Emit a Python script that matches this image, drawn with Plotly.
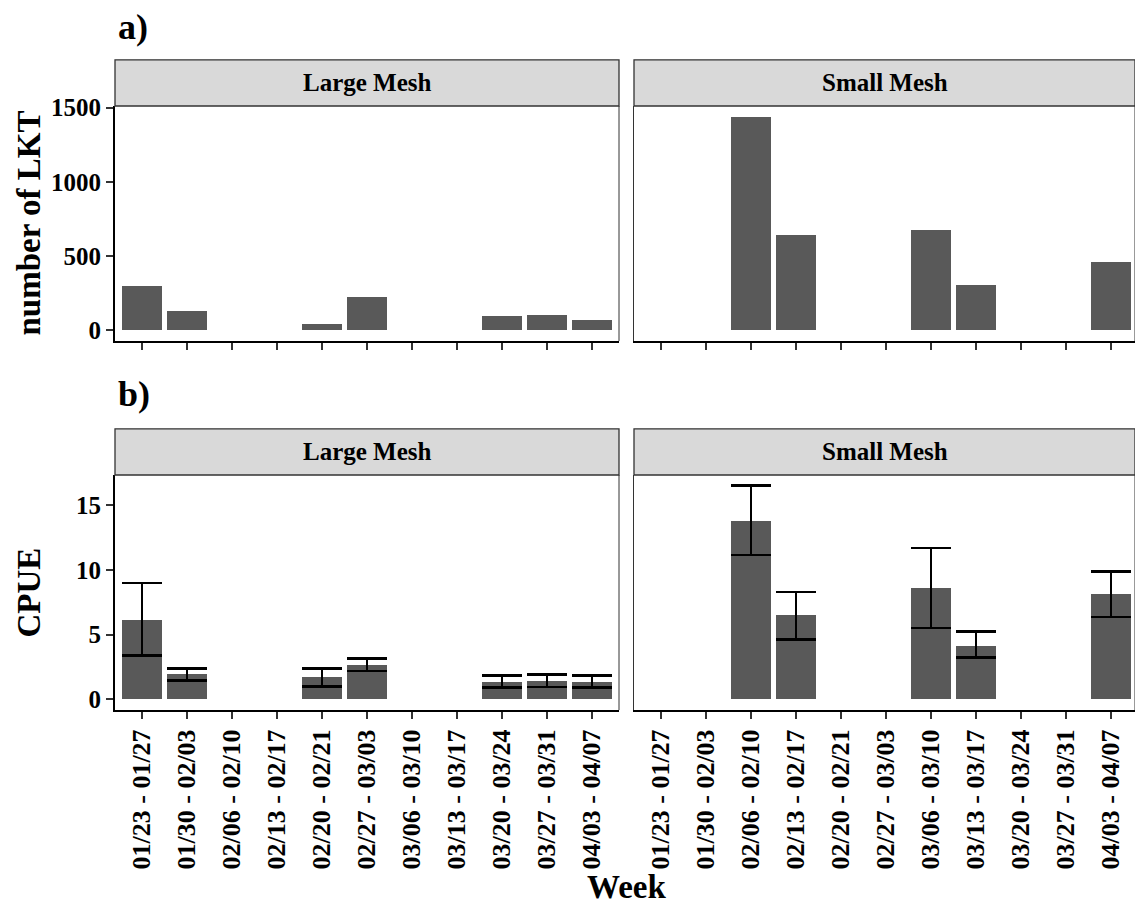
import plotly.graph_objects as go

# Sampling weeks (x categories shared by every panel)
weeks = ["01/23 - 01/27", "01/30 - 02/03", "02/06 - 02/10", "02/13 - 02/17",
         "02/20 - 02/21", "02/27 - 03/03", "03/06 - 03/10", "03/13 - 03/17",
         "03/20 - 03/24", "03/27 - 03/31", "04/03 - 04/07"]

# a) number of LKT caught per week
lkt_large = [301, 129, None, None, 42, 223, None, None, 96, 105, 72]
lkt_small = [None, None, 1439, 643, None, None, 674, 308, None, None, 460]

# b) CPUE mean with lower / upper error limits
cpue_large = [6.13, 1.92, None, None, 1.69, 2.62, None, None, 1.33, 1.41, 1.36]
cpue_large_lo = [3.38, 1.44, None, None, 1.00, 2.18, None, None, 0.90, 0.95, 0.92]
cpue_large_hi = [8.97, 2.38, None, None, 2.38, 3.13, None, None, 1.82, 1.90, 1.82]
cpue_small = [None, None, 13.77, 6.49, None, None, 8.59, 4.15, None, None, 8.10]
cpue_small_lo = [None, None, 11.15, 4.64, None, None, 5.51, 3.21, None, None, 6.36]
cpue_small_hi = [None, None, 16.49, 8.28, None, None, 11.67, 5.21, None, None, 9.85]

panel_names = ["Large Mesh", "Small Mesh"]

FONT = "Liberation Serif"
BAR = "#595959"
W, H = 1135, 905


def err(mean, bound, upper):
    out = []
    for m, b in zip(mean, bound):
        if m is None:
            out.append(None)
        else:
            out.append(b - m if upper else m - b)
    return out


def padded(lo, hi, frac=0.05):
    span = hi - lo
    return [lo - frac * span, hi + frac * span]


fig = go.Figure()

# top row: counts
for i, vals in enumerate([lkt_large, lkt_small]):
    fig.add_trace(go.Bar(
        x=weeks, y=vals, width=0.9, marker=dict(color=BAR, line=dict(width=0)),
        xaxis="x" if i == 0 else "x2", yaxis="y" if i == 0 else "y2",
        showlegend=False))

# bottom row: CPUE with error bars
for i, (m, lo, hi) in enumerate([(cpue_large, cpue_large_lo, cpue_large_hi),
                                  (cpue_small, cpue_small_lo, cpue_small_hi)]):
    fig.add_trace(go.Bar(
        x=weeks, y=m, width=0.9, marker=dict(color=BAR, line=dict(width=0)),
        error_y=dict(type="data", symmetric=False,
                     array=err(m, hi, True), arrayminus=err(m, lo, False),
                     color="black", thickness=2.7, width=20),
        xaxis="x3" if i == 0 else "x4", yaxis="y3" if i == 0 else "y4",
        showlegend=False))

top_max = max(v for v in lkt_large + lkt_small if v is not None)
bot_max = max(v for v in cpue_large_hi + cpue_small_hi if v is not None)
top_range = padded(0, top_max)
bot_range = padded(0, bot_max)

# panel geometry (pixels on the page)
left_x = [115 / W, 619 / W]
right_x = [634 / W, 1.0]
top_y = [1 - 341 / H, 1 - 106 / H]
bot_y = [1 - 710 / H, 1 - 475 / H]
step = (619 - 115) / 11.2
right_end = -0.6 + (W - 634) / step

tickfont_x = dict(family=FONT, size=26, color="black", weight="bold")
tickfont_y = dict(family=FONT, size=25, color="black", weight="bold")

xcommon = dict(type="category", categoryorder="array", categoryarray=weeks,
               ticks="outside", ticklen=7, tickwidth=2, tickcolor="#333333",
               showline=True, linecolor="black", linewidth=2, showgrid=False,
               zeroline=False, fixedrange=True)

fig.update_layout(
    width=W, height=H, margin=dict(l=0, r=0, t=0, b=0, autoexpand=False),
    paper_bgcolor="white", plot_bgcolor="white", bargap=0,
    xaxis=dict(xcommon, domain=left_x, anchor="y", range=[-0.6, 10.6], showticklabels=False),
    xaxis2=dict(xcommon, domain=right_x, anchor="y2", range=[-0.6, right_end], showticklabels=False),
    xaxis3=dict(xcommon, domain=left_x, anchor="y3", range=[-0.6, 10.6], tickangle=-90,
                tickfont=tickfont_x),
    xaxis4=dict(xcommon, domain=right_x, anchor="y4", range=[-0.6, right_end], tickangle=-90,
                tickfont=tickfont_x),
    yaxis=dict(domain=top_y, anchor="x", range=top_range, tickvals=[0, 500, 1000, 1500],
               ticks="outside", ticklen=7, tickwidth=2, tickcolor="#333333",
               showline=True, linecolor="black", linewidth=2, showgrid=False,
               zeroline=False, tickfont=tickfont_y),
    yaxis2=dict(domain=top_y, anchor="x2", range=top_range, showticklabels=False,
                ticks="", showline=True, linecolor="#333333", linewidth=1,
                showgrid=False, zeroline=False),
    yaxis3=dict(domain=bot_y, anchor="x3", range=bot_range, tickvals=[0, 5, 10, 15],
                ticks="outside", ticklen=7, tickwidth=2, tickcolor="#333333",
                showline=True, linecolor="black", linewidth=2, showgrid=False,
                zeroline=False, tickfont=tickfont_y),
    yaxis4=dict(domain=bot_y, anchor="x4", range=bot_range, showticklabels=False,
                ticks="", showline=True, linecolor="#333333", linewidth=1,
                showgrid=False, zeroline=False),
)

# facet strips and panel borders
strip_h = 46.2 / 235
pairs = [("x", "y", 0), ("x2", "y2", 1), ("x3", "y3", 0), ("x4", "y4", 1)]
for xa, ya, k in pairs:
    xr, yr = xa + " domain", ya + " domain"
    fig.add_shape(type="line", xref=xr, yref=yr, x0=1, x1=1, y0=0, y1=1,
                  line=dict(color="#333333", width=1))
    fig.add_shape(type="rect", xref=xr, yref=yr, x0=0, x1=1, y0=1, y1=1 + strip_h,
                  fillcolor="#D9D9D9", line=dict(color="#333333", width=1.3), layer="above")
    fig.add_annotation(xref=xr, yref=yr, x=0.5, y=1 + strip_h / 2, text=panel_names[k],
                       showarrow=False, xanchor="center", yanchor="middle",
                       font=dict(family=FONT, size=25, color="black", weight="bold"))

# panel letters and axis titles
title_font = dict(family=FONT, size=33, color="black", weight="bold")
fig.add_annotation(xref="paper", yref="paper", x=116 / W, y=1 - 27 / H, text="a)",
                   showarrow=False, xanchor="left", yanchor="middle",
                   font=dict(family=FONT, size=36, color="black", weight="bold"))
fig.add_annotation(xref="paper", yref="paper", x=116 / W, y=1 - 394 / H, text="b)",
                   showarrow=False, xanchor="left", yanchor="middle",
                   font=dict(family=FONT, size=36, color="black", weight="bold"))
fig.add_annotation(xref="paper", yref="paper", x=28 / W, y=sum(top_y) / 2,
                   text="number of LKT", textangle=-90, showarrow=False,
                   xanchor="center", yanchor="middle", font=title_font)
fig.add_annotation(xref="paper", yref="paper", x=28 / W, y=sum(bot_y) / 2,
                   text="CPUE", textangle=-90, showarrow=False,
                   xanchor="center", yanchor="middle", font=title_font)
fig.add_annotation(xref="paper", yref="paper", x=626 / W, y=1 - 887 / H,
                   text="Week", showarrow=False, xanchor="center", yanchor="middle",
                   font=title_font)

fig.write_html("out.html", config={"displayModeBar": False})
